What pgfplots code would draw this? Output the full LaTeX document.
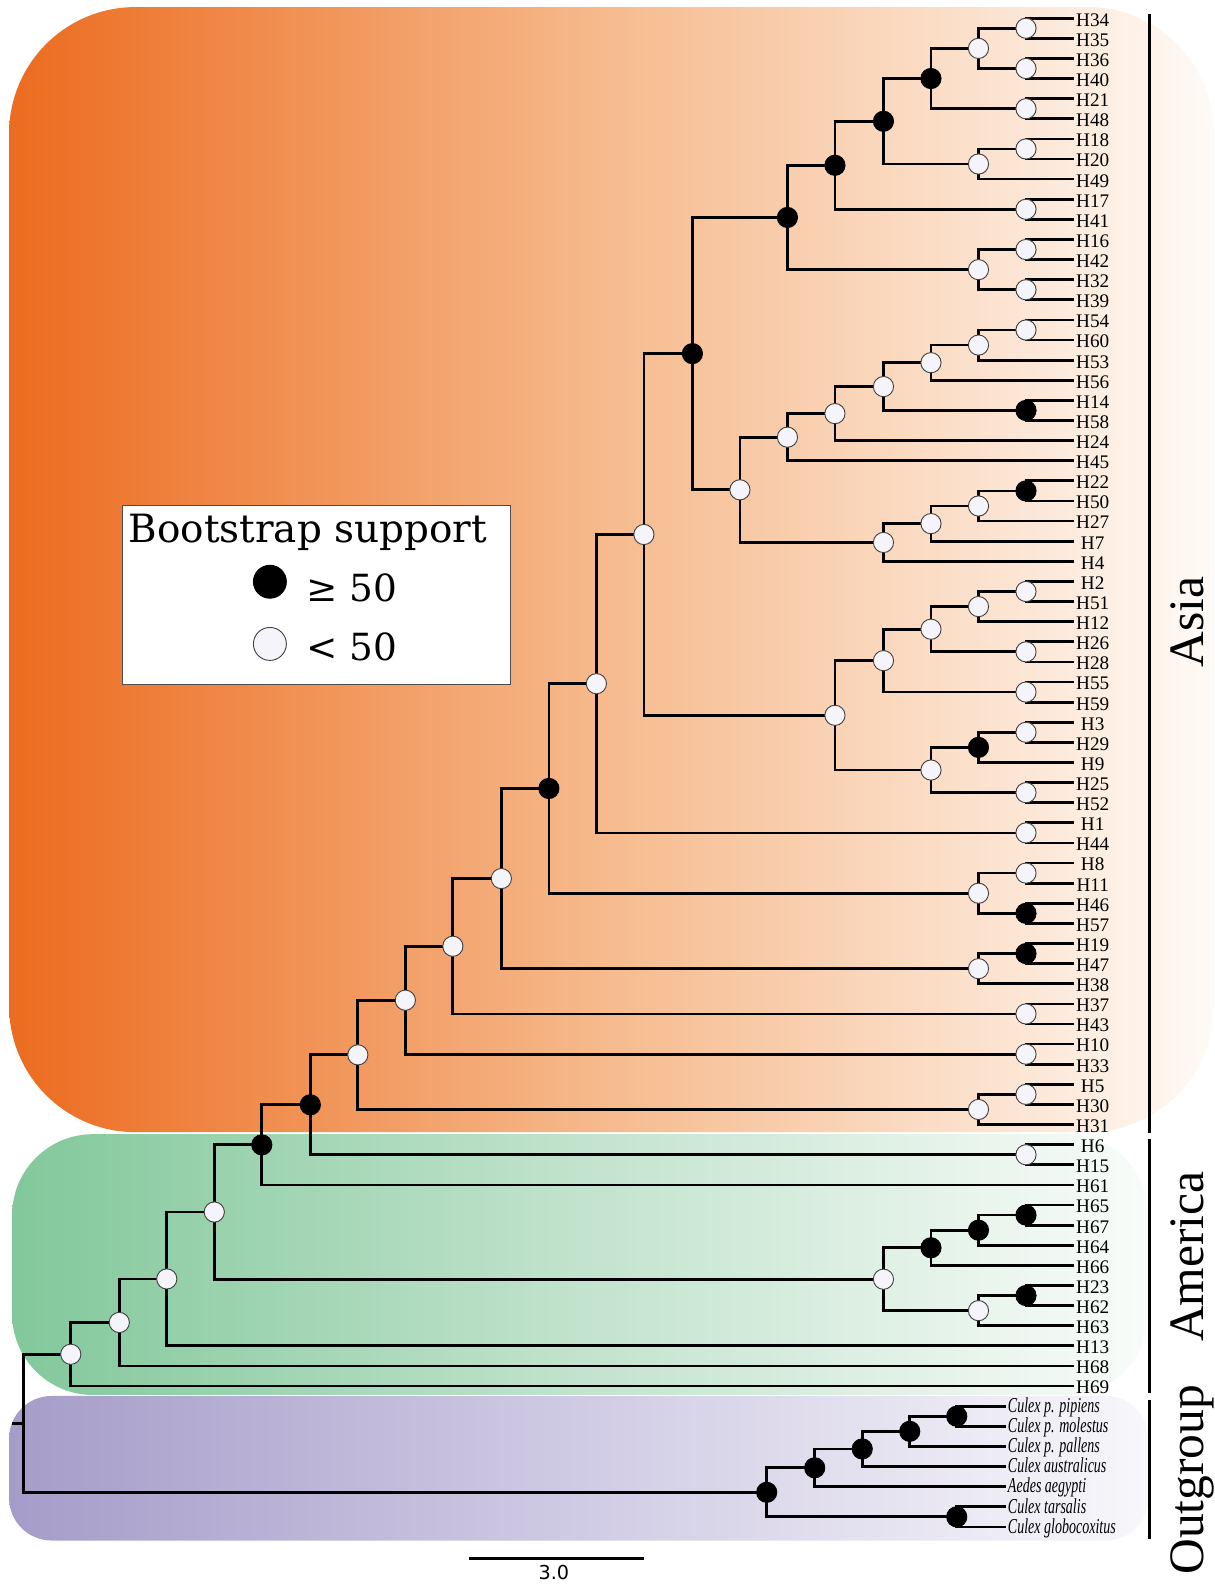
\documentclass[border=0pt]{standalone}
\usepackage{fontspec}
\setmainfont{Liberation Serif}
\usepackage{pgfplots}
\pgfplotsset{compat=1.18}
\newfontfamily\dvserif{DejaVu Serif}
\newfontfamily\dvsans{DejaVu Sans}
\newfontfamily\condser[FakeStretch=0.66]{Liberation Serif}
\definecolor{asiaL}{HTML}{EC6B1F}
\definecolor{asiaM}{HTML}{F6BB8E}
\definecolor{asiaR}{HTML}{FFFAF6}
\definecolor{amL}{HTML}{82C89B}
\definecolor{amM}{HTML}{C2E3CD}
\definecolor{amR}{HTML}{F9FCFA}
\definecolor{ogL}{HTML}{A69CC9}
\definecolor{ogM}{HTML}{D0CBE4}
\definecolor{ogR}{HTML}{F8F7FB}
\definecolor{nodew}{HTML}{F4F4FA}
\tikzset{
  hl/.style={anchor=base, inner sep=0pt, yshift=-7.8pt, font=\fontsize{19}{19}\selectfont},
  ol/.style={anchor=base west, inner sep=0pt, yshift=-6.2pt, font=\condser\itshape\fontsize{21}{21}\selectfont},
  gl/.style={anchor=base, rotate=90, inner sep=0pt, font=\fontsize{49}{49}\selectfont},
}
\begin{document}
\begin{tikzpicture}
\begin{axis}[
  scale only axis, width=1201pt, height=1568pt,
  xmin=0, xmax=1201, ymin=0.09548, ymax=78.8894,
  y dir=reverse, hide axis, clip=false,
  unbounded coords=jump,
]
\path (axis cs:0,0.09548) rectangle (axis cs:1201,78.8894);
% backgrounds
\shade[rounded corners=125pt, left color=asiaL, right color=asiaR, middle color=asiaM] (axis cs:9,0.447) rectangle (axis cs:1201,56.377);
\shade[rounded corners=80pt, left color=amL, right color=amR, middle color=amM] (axis cs:12,56.477) rectangle (axis cs:1136,69.442);
\shade[rounded corners=42pt, left color=ogL, right color=ogR, middle color=ogM] (axis cs:9,69.492) rectangle (axis cs:1136,76.678);
% tree branches
\addplot[black, line width=2.7pt, mark=none] coordinates {
(1062,1)(1015,1)(1015,2)(1062,2)(nan,nan)
(1062,3)(1015,3)(1015,4)(1062,4)(nan,nan)
(1015,1.5)(968,1.5)(968,3.5)(1015,3.5)(nan,nan)
(1062,5)(1015,5)(1015,6)(1062,6)(nan,nan)
(968,2.5)(921,2.5)(921,5.5)(1015,5.5)(nan,nan)
(1062,7)(1015,7)(1015,8)(1062,8)(nan,nan)
(1015,7.5)(968,7.5)(968,9)(1062,9)(nan,nan)
(921,4)(874,4)(874,8.25)(968,8.25)(nan,nan)
(1062,10)(1015,10)(1015,11)(1062,11)(nan,nan)
(874,6.125)(826,6.125)(826,10.5)(1015,10.5)(nan,nan)
(1062,12)(1015,12)(1015,13)(1062,13)(nan,nan)
(1062,14)(1015,14)(1015,15)(1062,15)(nan,nan)
(1015,12.5)(968,12.5)(968,14.5)(1015,14.5)(nan,nan)
(826,8.3125)(779,8.3125)(779,13.5)(968,13.5)(nan,nan)
(1062,16)(1015,16)(1015,17)(1062,17)(nan,nan)
(1015,16.5)(968,16.5)(968,18)(1062,18)(nan,nan)
(968,17.25)(921,17.25)(921,19)(1062,19)(nan,nan)
(1062,20)(1015,20)(1015,21)(1062,21)(nan,nan)
(921,18.125)(874,18.125)(874,20.5)(1015,20.5)(nan,nan)
(874,19.3125)(826,19.3125)(826,22)(1062,22)(nan,nan)
(826,20.65625)(779,20.65625)(779,23)(1062,23)(nan,nan)
(1062,24)(1015,24)(1015,25)(1062,25)(nan,nan)
(1015,24.5)(968,24.5)(968,26)(1062,26)(nan,nan)
(968,25.25)(921,25.25)(921,27)(1062,27)(nan,nan)
(921,26.125)(874,26.125)(874,28)(1062,28)(nan,nan)
(779,21.828125)(732,21.828125)(732,27.0625)(874,27.0625)(nan,nan)
(779,10.90625)(685,10.90625)(685,24.4453)(732,24.4453)(nan,nan)
(1062,29)(1015,29)(1015,30)(1062,30)(nan,nan)
(1015,29.5)(968,29.5)(968,31)(1062,31)(nan,nan)
(1062,32)(1015,32)(1015,33)(1062,33)(nan,nan)
(968,30.25)(921,30.25)(921,32.5)(1015,32.5)(nan,nan)
(1062,34)(1015,34)(1015,35)(1062,35)(nan,nan)
(921,31.375)(874,31.375)(874,34.5)(1015,34.5)(nan,nan)
(1062,36)(1015,36)(1015,37)(1062,37)(nan,nan)
(1015,36.5)(968,36.5)(968,38)(1062,38)(nan,nan)
(1062,39)(1015,39)(1015,40)(1062,40)(nan,nan)
(968,37.25)(921,37.25)(921,39.5)(1015,39.5)(nan,nan)
(874,32.9375)(826,32.9375)(826,38.375)(921,38.375)(nan,nan)
(685,17.6758)(637,17.6758)(637,35.65625)(826,35.65625)(nan,nan)
(1062,41)(1015,41)(1015,42)(1062,42)(nan,nan)
(637,26.666)(590,26.666)(590,41.5)(1015,41.5)(nan,nan)
(1062,43)(1015,43)(1015,44)(1062,44)(nan,nan)
(1062,45)(1015,45)(1015,46)(1062,46)(nan,nan)
(1015,43.5)(968,43.5)(968,45.5)(1015,45.5)(nan,nan)
(590,34.083)(543,34.083)(543,44.5)(968,44.5)(nan,nan)
(1062,47)(1015,47)(1015,48)(1062,48)(nan,nan)
(1015,47.5)(968,47.5)(968,49)(1062,49)(nan,nan)
(543,39.2915)(496,39.2915)(496,48.25)(968,48.25)(nan,nan)
(1062,50)(1015,50)(1015,51)(1062,51)(nan,nan)
(496,43.77075)(448,43.77075)(448,50.5)(1015,50.5)(nan,nan)
(1062,52)(1015,52)(1015,53)(1062,53)(nan,nan)
(448,47.13538)(401,47.13538)(401,52.5)(1015,52.5)(nan,nan)
(1062,54)(1015,54)(1015,55)(1062,55)(nan,nan)
(1015,54.5)(968,54.5)(968,56)(1062,56)(nan,nan)
(401,49.81769)(354,49.81769)(354,55.25)(968,55.25)(nan,nan)
(1062,57)(1015,57)(1015,58)(1062,58)(nan,nan)
(354,52.53384)(307,52.53384)(307,57.5)(1015,57.5)(nan,nan)
(307,55.01692)(259,55.01692)(259,59)(1062,59)(nan,nan)
(1062,60)(1015,60)(1015,61)(1062,61)(nan,nan)
(1015,60.5)(968,60.5)(968,62)(1062,62)(nan,nan)
(968,61.25)(921,61.25)(921,63)(1062,63)(nan,nan)
(1062,64)(1015,64)(1015,65)(1062,65)(nan,nan)
(1015,64.5)(968,64.5)(968,66)(1062,66)(nan,nan)
(921,62.125)(874,62.125)(874,65.25)(968,65.25)(nan,nan)
(259,57.00846)(212,57.00846)(212,63.6875)(874,63.6875)(nan,nan)
(212,60.34798)(165,60.34798)(165,67)(1062,67)(nan,nan)
(165,63.67399)(118,63.67399)(118,68)(1062,68)(nan,nan)
(118,65.837)(70,65.837)(70,69)(1062,69)(nan,nan)
(995.5,70)(946.5,70)(946.5,71)(995.5,71)(nan,nan)
(946.5,70.5)(900,70.5)(900,72)(995.5,72)(nan,nan)
(900,71.25)(853,71.25)(853,73)(995.5,73)(nan,nan)
(853,72.125)(806,72.125)(806,74)(995.5,74)(nan,nan)
(995.5,75)(946.5,75)(946.5,76)(995.5,76)(nan,nan)
(806,73.0625)(758.5,73.0625)(758.5,75.5)(946.5,75.5)(nan,nan)
(70,67.4185)(23,67.4185)(23,74.28125)(758.5,74.28125)(nan,nan)
(12,70.85)(23,70.85)
};
% support < 50
\addplot[only marks, mark=*, mark size=10pt, mark options={fill=nodew, draw=black!75, line width=0.9pt}] coordinates {
(1015,1.5)(1015,3.5)(968,2.5)(1015,5.5)(1015,7.5)(968,8.25)(1015,10.5)
(1015,12.5)(1015,14.5)(968,13.5)(1015,16.5)(968,17.25)(921,18.125)
(874,19.3125)(826,20.65625)(779,21.828125)(968,25.25)(921,26.125)
(874,27.0625)(732,24.4453)(1015,29.5)(968,30.25)(1015,32.5)(921,31.375)
(1015,34.5)(874,32.9375)(1015,36.5)(1015,39.5)(921,38.375)(826,35.65625)
(637,26.666)(1015,41.5)(590,34.083)(1015,43.5)(968,44.5)(968,48.25)
(496,43.77075)(1015,50.5)(448,47.13538)(1015,52.5)(401,49.81769)
(1015,54.5)(968,55.25)(354,52.53384)(1015,57.5)(968,65.25)(874,63.6875)
(212,60.34798)(165,63.67399)(118,65.837)(70,67.4185)
};
% support >= 50
\addplot[only marks, mark=*, mark size=10pt, mark options={fill=black, draw=black, line width=0.9pt}] coordinates {
(921,4)(874,6.125)(826,8.3125)(779,10.90625)(1015,20.5)(1015,24.5)
(685,17.6758)(968,37.25)(1015,45.5)(543,39.2915)(1015,47.5)
(307,55.01692)(259,57.00846)(1015,60.5)(968,61.25)(921,62.125)(1015,64.5)
(946.5,70.5)(900,71.25)(853,72.125)(806,73.0625)(946.5,75.5)(758.5,74.28125)
};
% tip labels
\node[hl] at (axis cs:1081,1) {H34};
\node[hl] at (axis cs:1081,2) {H35};
\node[hl] at (axis cs:1081,3) {H36};
\node[hl] at (axis cs:1081,4) {H40};
\node[hl] at (axis cs:1081,5) {H21};
\node[hl] at (axis cs:1081,6) {H48};
\node[hl] at (axis cs:1081,7) {H18};
\node[hl] at (axis cs:1081,8) {H20};
\node[hl] at (axis cs:1081,9) {H49};
\node[hl] at (axis cs:1081,10) {H17};
\node[hl] at (axis cs:1081,11) {H41};
\node[hl] at (axis cs:1081,12) {H16};
\node[hl] at (axis cs:1081,13) {H42};
\node[hl] at (axis cs:1081,14) {H32};
\node[hl] at (axis cs:1081,15) {H39};
\node[hl] at (axis cs:1081,16) {H54};
\node[hl] at (axis cs:1081,17) {H60};
\node[hl] at (axis cs:1081,18) {H53};
\node[hl] at (axis cs:1081,19) {H56};
\node[hl] at (axis cs:1081,20) {H14};
\node[hl] at (axis cs:1081,21) {H58};
\node[hl] at (axis cs:1081,22) {H24};
\node[hl] at (axis cs:1081,23) {H45};
\node[hl] at (axis cs:1081,24) {H22};
\node[hl] at (axis cs:1081,25) {H50};
\node[hl] at (axis cs:1081,26) {H27};
\node[hl] at (axis cs:1081,27) {H7};
\node[hl] at (axis cs:1081,28) {H4};
\node[hl] at (axis cs:1081,29) {H2};
\node[hl] at (axis cs:1081,30) {H51};
\node[hl] at (axis cs:1081,31) {H12};
\node[hl] at (axis cs:1081,32) {H26};
\node[hl] at (axis cs:1081,33) {H28};
\node[hl] at (axis cs:1081,34) {H55};
\node[hl] at (axis cs:1081,35) {H59};
\node[hl] at (axis cs:1081,36) {H3};
\node[hl] at (axis cs:1081,37) {H29};
\node[hl] at (axis cs:1081,38) {H9};
\node[hl] at (axis cs:1081,39) {H25};
\node[hl] at (axis cs:1081,40) {H52};
\node[hl] at (axis cs:1081,41) {H1};
\node[hl] at (axis cs:1081,42) {H44};
\node[hl] at (axis cs:1081,43) {H8};
\node[hl] at (axis cs:1081,44) {H11};
\node[hl] at (axis cs:1081,45) {H46};
\node[hl] at (axis cs:1081,46) {H57};
\node[hl] at (axis cs:1081,47) {H19};
\node[hl] at (axis cs:1081,48) {H47};
\node[hl] at (axis cs:1081,49) {H38};
\node[hl] at (axis cs:1081,50) {H37};
\node[hl] at (axis cs:1081,51) {H43};
\node[hl] at (axis cs:1081,52) {H10};
\node[hl] at (axis cs:1081,53) {H33};
\node[hl] at (axis cs:1081,54) {H5};
\node[hl] at (axis cs:1081,55) {H30};
\node[hl] at (axis cs:1081,56) {H31};
\node[hl] at (axis cs:1081,57) {H6};
\node[hl] at (axis cs:1081,58) {H15};
\node[hl] at (axis cs:1081,59) {H61};
\node[hl] at (axis cs:1081,60) {H65};
\node[hl] at (axis cs:1081,61) {H67};
\node[hl] at (axis cs:1081,62) {H64};
\node[hl] at (axis cs:1081,63) {H66};
\node[hl] at (axis cs:1081,64) {H23};
\node[hl] at (axis cs:1081,65) {H62};
\node[hl] at (axis cs:1081,66) {H63};
\node[hl] at (axis cs:1081,67) {H13};
\node[hl] at (axis cs:1081,68) {H68};
\node[hl] at (axis cs:1081,69) {H69};
\node[ol] at (axis cs:997,70) {Culex p. pipiens};
\node[ol] at (axis cs:997,71) {Culex p. molestus};
\node[ol] at (axis cs:997,72) {Culex p. pallens};
\node[ol] at (axis cs:997,73) {Culex australicus};
\node[ol] at (axis cs:997,74) {Aedes aegypti};
\node[ol] at (axis cs:997,75) {Culex tarsalis};
\node[ol] at (axis cs:997,76) {Culex globocoxitus};
% group bars and labels
\addplot[black, line width=2.7pt, mark=none] coordinates {
(1137,0.799)(1137,56.427)(nan,nan)
(1137,56.729)(1137,69.342)(nan,nan)
(1137,69.693)(1137,76.578)
};
\node[gl] at (axis cs:1191,31.0) {Asia};
\node[gl] at (axis cs:1191,62.56) {America};
\node[gl] at (axis cs:1191,73.66) {Outgroup};
% scale bar
\addplot[black, line width=2.6pt, mark=none] coordinates {(464,77.583)(637,77.583)};
\node[anchor=base, inner sep=0pt, font=\dvsans\fontsize{19}{19}\selectfont] at (axis cs:548,78.638) {3.0};
% legend
\draw[fill=white, draw=black!70, line width=1.2pt] (axis cs:121,25.221) rectangle (axis cs:505,34.116);
\node[anchor=base west, inner sep=0pt, font=\dvserif\fontsize{38.5}{38.5}\selectfont] at (axis cs:127,27.08) {Bootstrap support};
\addplot[only marks, mark=*, mark size=16.3pt, mark options={fill=black, draw=black, line width=0.9pt}] coordinates {(267,29.015)};
\addplot[only marks, mark=*, mark size=16.3pt, mark options={fill=nodew, draw=black!75, line width=0.9pt}] coordinates {(267,32.106)};
\node[anchor=base west, inner sep=0pt, font=\dvserif\fontsize{37}{37}\selectfont] at (axis cs:303,30.02) {≥ 50};
\node[anchor=base west, inner sep=0pt, font=\dvserif\fontsize{37}{37}\selectfont] at (axis cs:303,32.91) {< 50};
\end{axis}
\end{tikzpicture}
\end{document}
